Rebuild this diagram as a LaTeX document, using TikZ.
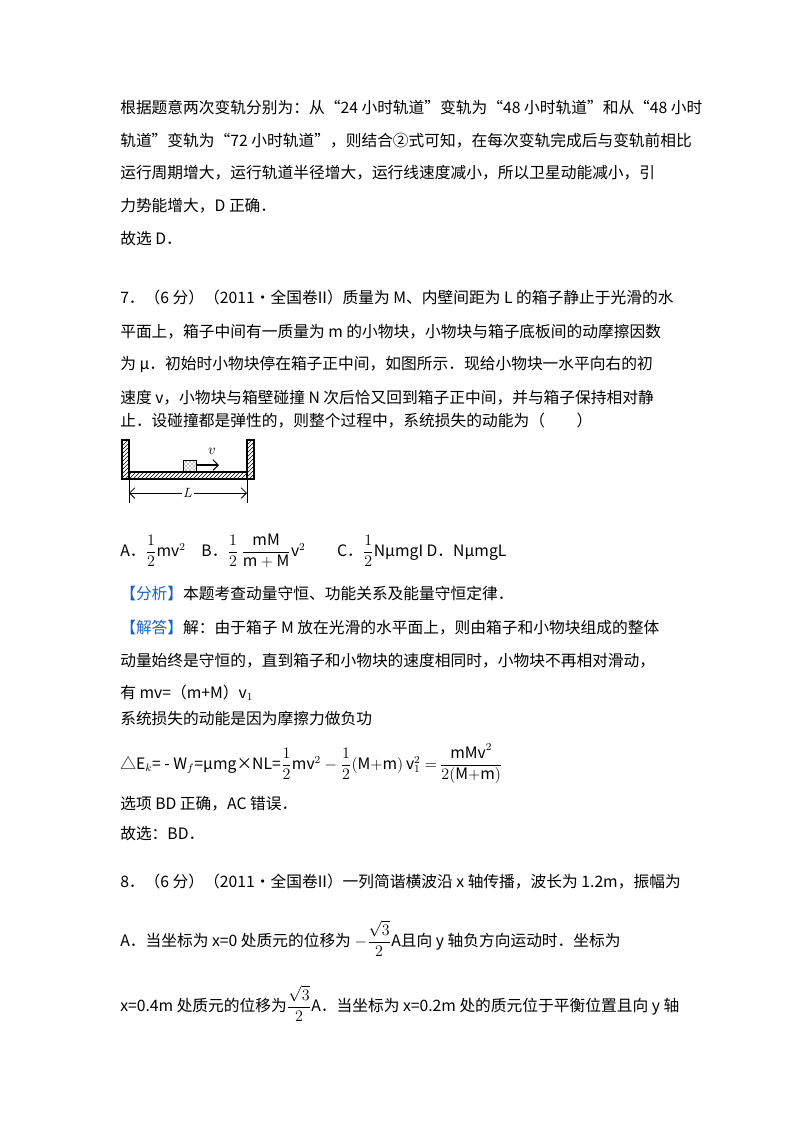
\documentclass[tikz,border=0pt]{standalone}
\usepackage{fontspec}
\usepackage{amsmath}
\setmainfont{Noto Sans CJK SC}
\usetikzlibrary{patterns,arrows.meta}
\definecolor{hl}{HTML}{1F5FC8}
\begin{document}
\begin{tikzpicture}[x=0.75pt,y=-0.75pt,
  tx/.style={anchor=base west,inner sep=0,font=\fontsize{11.8}{14}\selectfont},
  hatch/.style={pattern=north east lines,draw=black,line width=0.9pt}]
\useasboundingbox (0,0) rectangle (800,1132);
\node[tx] (l1) at (120,113) {根据题意两次变轨分别为：从“24 小时轨道”变轨为“48 小时轨道”和从“48 小时};
\node[tx] (l2) at (120,146) {轨道”变轨为“72 小时轨道”，则结合②式可知，在每次变轨完成后与变轨前相比};
\node[tx] (l3) at (120,178) {运行周期增大，运行轨道半径增大，运行线速度减小，所以卫星动能减小，引};
\node[tx] (l4) at (120,211) {力势能增大，D 正确．};
\node[tx] (l5) at (120,244) {故选 D．};
\node[tx] (q1) at (120,303) {7．（6 分）（2011•全国卷II）质量为 M、内壁间距为 L 的箱子静止于光滑的水};
\node[tx] (q2) at (120,337) {平面上，箱子中间有一质量为 m 的小物块，小物块与箱子底板间的动摩擦因数};
\node[tx] (q3) at (120,369) {为 μ．初始时小物块停在箱子正中间，如图所示．现给小物块一水平向右的初};
\node[tx] (q4) at (120,403) {速度 v，小物块与箱壁碰撞 N 次后恰又回到箱子正中间，并与箱子保持相对静};
\node[tx] (q5) at (120,426) {止．设碰撞都是弹性的，则整个过程中，系统损失的动能为（　　）};
% figure
\path[hatch] (122,440) rectangle (129,479);
\path[hatch] (247,440) rectangle (254,479);
\path[hatch] (129,472) rectangle (247,479);
\path[pattern=crosshatch dots,draw=black,line width=0.6pt] (183,460) rectangle (196,472);
\coordinate (bk) at (196,465);
\coordinate (bt) at (219,465);
\draw[-{Straight Barb[length=4pt]},line width=0.8pt] (bk) -- (bt);
\node[font=\fontsize{11}{12}\selectfont,inner sep=0] (v) at (212,451) {$v$};
\draw[line width=0.6pt] (129,479) -- (129,503);
\draw[line width=0.6pt] (247,479) -- (247,503);
\node[inner sep=1pt,fill=white] (L) at (188,493) {$L$};
\coordinate (dl) at (129,493);
\coordinate (dr) at (247,493);
\draw[-{Straight Barb[length=4pt]},line width=0.6pt] (L) -- (dl);
\draw[-{Straight Barb[length=4pt]},line width=0.6pt] (L) -- (dr);
% answers
\node[tx] (ans) at (120,556) {A．$\dfrac12$mv$^2$\quad B．$\dfrac12\,\dfrac{\mathrm{mM}}{\mathrm{m+M}}\mathrm{v}^2$\qquad C．$\dfrac12$NμmgI D．NμmgL};
\node[tx] (fx) at (120,599) {\textcolor{hl}{【分析】}本题考查动量守恒、功能关系及能量守恒定律．};
\node[tx] (jd1) at (120,633) {\textcolor{hl}{【解答】}解：由于箱子 M 放在光滑的水平面上，则由箱子和小物块组成的整体};
\node[tx] (jd2) at (120,666) {动量始终是守恒的，直到箱子和小物块的速度相同时，小物块不再相对滑动，};
\node[tx] (jd3) at (120,698) {有 mv=（m+M）v$_1$};
\node[tx] (jd4) at (120,724) {系统损失的动能是因为摩擦力做负功};
\node[tx] (jd5) at (120,769) {△E$_k$= - W$_f$=μmg×NL=$\dfrac12\mathrm{mv}^2-\dfrac12(\mathrm{M{+}m})\,\mathrm{v}_1^2\;{=}\,\dfrac{\mathrm{mMv}^2}{2(\mathrm{M{+}m})}$};
\node[tx] (jd6) at (120,809) {选项 BD 正确，AC 错误．};
\node[tx] (jd7) at (120,839) {故选：BD．};
\node[tx] (r1) at (120,887) {8．（6 分）（2011•全国卷II）一列简谐横波沿 x 轴传播，波长为 1.2m，振幅为};
\node[tx] (r2) at (120,946) {A．当坐标为 x=0 处质元的位移为 $-\dfrac{\sqrt3}{2}$A且向 y 轴负方向运动时．坐标为};
\node[tx] (r3) at (120,1011) {x=0.4m 处质元的位移为$\dfrac{\sqrt3}{2}$A．当坐标为 x=0.2m 处的质元位于平衡位置且向 y 轴};
\end{tikzpicture}
\end{document}
